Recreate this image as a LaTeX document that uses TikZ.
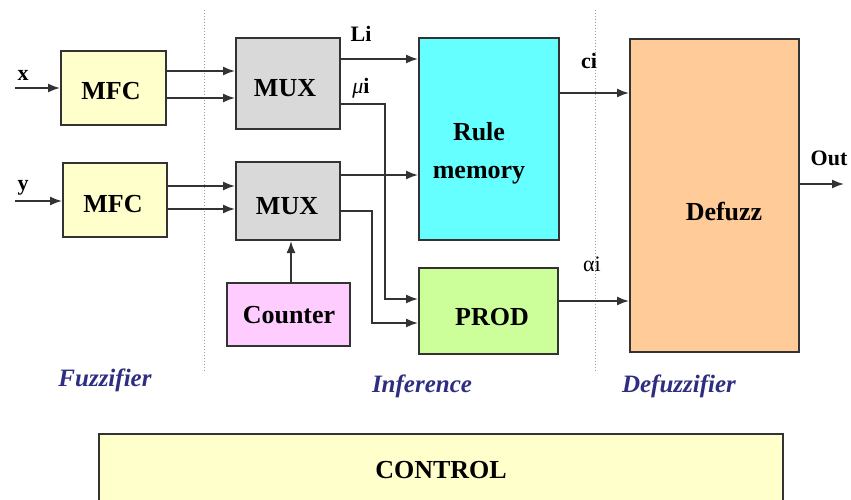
\documentclass[tikz,border=0pt]{standalone}
\usepackage{fontspec}
\setmainfont{Liberation Serif}
\usetikzlibrary{arrows.meta}
\definecolor{mfcc}{HTML}{FFFFCC}
\definecolor{muxc}{HTML}{D9D9D9}
\definecolor{rulec}{HTML}{66FFFF}
\definecolor{cntc}{HTML}{FFCCFF}
\definecolor{prodc}{HTML}{CCFF99}
\definecolor{defc}{HTML}{FFCC99}
\definecolor{edgec}{HTML}{333333}
\definecolor{secc}{HTML}{2E2E80}
\tikzset{
  box/.style={draw=edgec, line width=2pt, inner sep=0pt},
  boxtxt/.style={font=\fontsize{26}{38}\selectfont\bfseries, align=center, inner sep=0pt},
  sig/.style={font=\fontsize{22}{26}\selectfont\bfseries, inner sep=0pt},
  sect/.style={font=\fontsize{25}{30}\selectfont\bfseries\itshape, text=secc, inner sep=0pt},
  arr/.style={draw=edgec, line width=1.6pt, -{Latex[length=12pt,width=9pt]}},
  divider/.style={draw=black!40, line width=1pt, dotted},
}
\begin{document}
\begin{tikzpicture}[x=1pt,y=-1pt]
\clip (0,0) rectangle (851,500);
\fill[white] (0,0) rectangle (851,500);
% dividers
\draw[divider] (204,10) -- (204,372);
\draw[divider] (595,10) -- (595,372);
% boxes
\node[box, fill=mfcc, minimum width=105pt, minimum height=74pt] (mfc1) at (113.5,88) {};
\node[box, fill=mfcc, minimum width=104pt, minimum height=74pt] (mfc2) at (115,200) {};
\node[box, fill=muxc, minimum width=104pt, minimum height=91pt] (mux1) at (288,83.5) {};
\node[box, fill=muxc, minimum width=104pt, minimum height=78pt] (mux2) at (288,201) {};
\node[box, fill=rulec, minimum width=140pt, minimum height=202pt] (rule) at (489,139) {};
\node[box, fill=cntc, minimum width=123pt, minimum height=63pt] (cnt) at (288.5,314.5) {};
\node[box, fill=prodc, minimum width=139pt, minimum height=86pt] (prod) at (488.5,311) {};
\node[box, fill=defc, minimum width=169pt, minimum height=313pt] (def) at (714.5,195.5) {};
\node[box, fill=mfcc, minimum width=684pt, minimum height=74pt] (ctl) at (441,471) {};
% box texts
\node[boxtxt] (tmfc1) at (111,91) {MFC};
\node[boxtxt] (tmfc2) at (113,204) {MFC};
\node[boxtxt] (tmux1) at (285,88) {MUX};
\node[boxtxt] (tmux2) at (287,206) {MUX};
\node[boxtxt] (trule) at (479,153) {Rule\\memory};
\node[boxtxt] (tcnt) at (289,315) {Counter};
\node[boxtxt] (tprod) at (492,317) {PROD};
\node[boxtxt] (tdef) at (724,212) {Defuzz};
\node[boxtxt] (tctl) at (441,470) {CONTROL};
% inputs / outputs
\coordinate (xin) at (15,88);
\coordinate (yin) at (15,201);
\coordinate (out) at (844,184);
\node[sig] (lx) at (23,75) {x};
\node[sig] (ly) at (23,188) {y};
\draw[arr] (xin) -- (xin -| mfc1.west);
\draw[arr] (yin) -- (yin -| mfc2.west);
% MFC -> MUX
\draw[arr] (mfc1.east |- 0,71) -- (mux1.west |- 0,71);
\draw[arr] (mfc1.east |- 0,98) -- (mux1.west |- 0,98);
\draw[arr] (mfc2.east |- 0,186) -- (mux2.west |- 0,186);
\draw[arr] (mfc2.east |- 0,209) -- (mux2.west |- 0,209);
% MUX -> rule memory / prod
\draw[arr] (mux1.east |- 0,59) -- (rule.west |- 0,59);
\draw[arr] (mux1.east |- 0,104) -- (385,104) -- (385,299) -- (prod.west |- 0,299);
\draw[arr] (mux2.east |- 0,175) -- (rule.west |- 0,175);
\draw[arr] (mux2.east |- 0,211) -- (372,211) -- (372,323) -- (prod.west |- 0,323);
\draw[arr] (cnt.north -| 291,0) -- (mux2.south -| 291,0);
\node[sig] (lli) at (361,34) {Li};
\node[sig] (lmu) at (361,88) {{\itshape\mdseries μ}i};
% to defuzz
\draw[arr] (rule.east |- 0,93) -- (def.west |- 0,93);
\draw[arr] (prod.east |- 0,301) -- (def.west |- 0,301);
\node[sig] (lci) at (589,61) {ci};
\node[sig, font=\fontsize{22}{26}\selectfont] (lai) at (592,264) {αi};
\draw[arr] (def.east |- out) -- (out);
\node[sig] (lout) at (829,158) {Out};
% section labels
\node[sect] (sfz) at (105,380) {Fuzzifier};
\node[sect] (sinf) at (422,386) {Inference};
\node[sect] (sdef) at (679,386) {Defuzzifier};
\end{tikzpicture}
\end{document}
